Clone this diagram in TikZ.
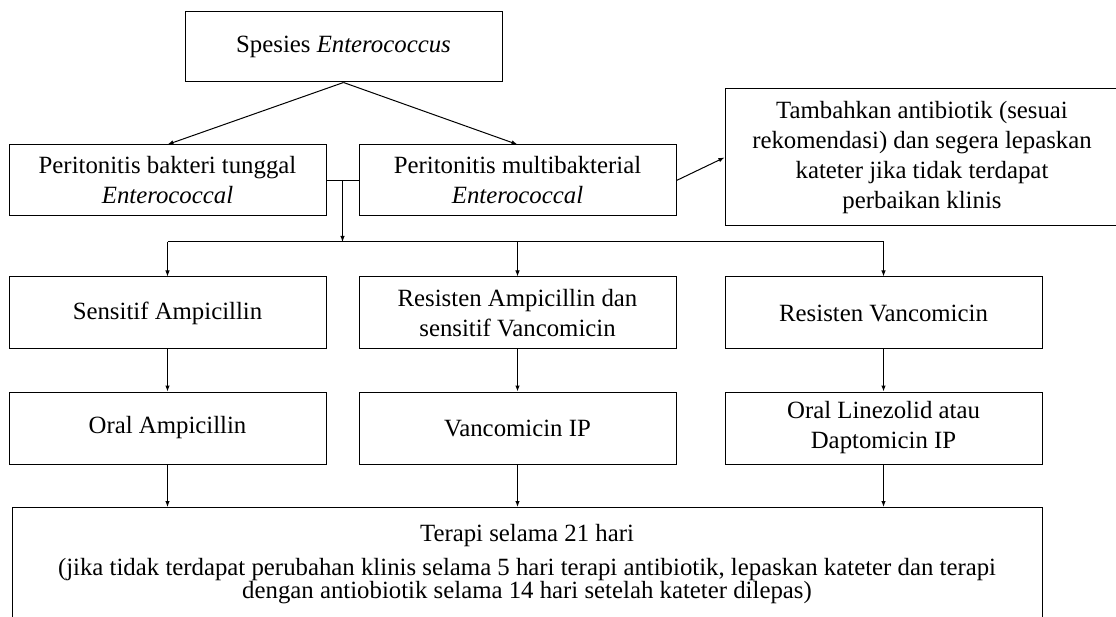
\documentclass[tikz,border=0pt]{standalone}
\usepackage{fontspec}
\setmainfont{Liberation Serif}
\usetikzlibrary{arrows.meta,calc}
\begin{document}
\begin{tikzpicture}[x=1pt,y=-1pt,
  box/.style={draw, line width=1pt, inner sep=0pt, align=center, font=\fontsize{24.8}{30}\selectfont},
  wbox/.style={box, minimum width=317pt, minimum height=71pt},
  arr/.style={line width=1pt, -{Latex[length=6pt,width=4.5pt]}},
  ln/.style={line width=1pt}]
\useasboundingbox (0,0) rectangle (1116,617);
\clip (0,0) rectangle (1116,617);
% row 0
\node[box, minimum width=317pt, minimum height=70pt] (top) at (343.5,47) {Spesies \textit{Enterococcus}};
% row 1
\node[wbox] (single) at (167.5,180.5) {Peritonitis bakteri tunggal\\ \textit{Enterococcal}};
\node[wbox] (multi) at (517.5,180.5) {Peritonitis multibakterial\\ \textit{Enterococcal}};
\node[box, minimum width=394pt, minimum height=137pt] (add) at (922,157.5) {Tambahkan antibiotik (sesuai\\ rekomendasi) dan segera lepaskan\\ kateter jika tidak terdapat\\ perbaikan klinis};
% row 2
\node[wbox, minimum height=72pt] (s1) at (167.5,313) {Sensitif Ampicillin};
\node[wbox, minimum height=72pt] (s2) at (517.5,313) {Resisten Ampicillin dan\\ sensitif Vancomicin};
\node[wbox, minimum height=72pt] (s3) at (883.5,313) {Resisten Vancomicin};
% row 3
\node[wbox, minimum height=72pt] (t1) at (167.5,428) {Oral Ampicillin};
\node[wbox, minimum height=72pt] (t2) at (517.5,428) {Vancomicin IP};
\node[wbox, minimum height=72pt] (t3) at (883.5,428) {Oral Linezolid atau\\ Daptomicin IP};
% final
\node[draw, line width=1pt, inner sep=0pt, anchor=north, font=\fontsize{24.8}{23}\selectfont] (fin) at (527,507)
  {\parbox[t][140pt][t]{1030pt}{\centering\vspace*{17pt}Terapi selama 21 hari\\[11pt]
   (jika tidak terdapat perubahan klinis selama 5 hari terapi antibiotik, lepaskan kateter dan terapi\\
   dengan antiobiotik selama 14 hari setelah kateter dilepas)}};
% connectors
\draw[arr] (top.south) -- (single.north);
\draw[arr] (top.south) -- (multi.north);
\draw[arr] (multi.east) -- (add.west);
\draw[ln] (single.east) -- coordinate (mid) (multi.west);
\coordinate (bus) at (342.5,242);
\draw[arr] (mid) -- (mid |- bus);
\draw[ln] (s1.north |- bus) -- (s3.north |- bus);
\draw[arr] (s1.north |- bus) -- (s1.north);
\draw[arr] (s2.north |- bus) -- (s2.north);
\draw[arr] (s3.north |- bus) -- (s3.north);
\draw[arr] (s1) -- (t1);
\draw[arr] (s2) -- (t2);
\draw[arr] (s3) -- (t3);
\draw[arr] (t1.south) -- (t1.south |- fin.north);
\draw[arr] (t2.south) -- (t2.south |- fin.north);
\draw[arr] (t3.south) -- (t3.south |- fin.north);
\end{tikzpicture}
\end{document}
